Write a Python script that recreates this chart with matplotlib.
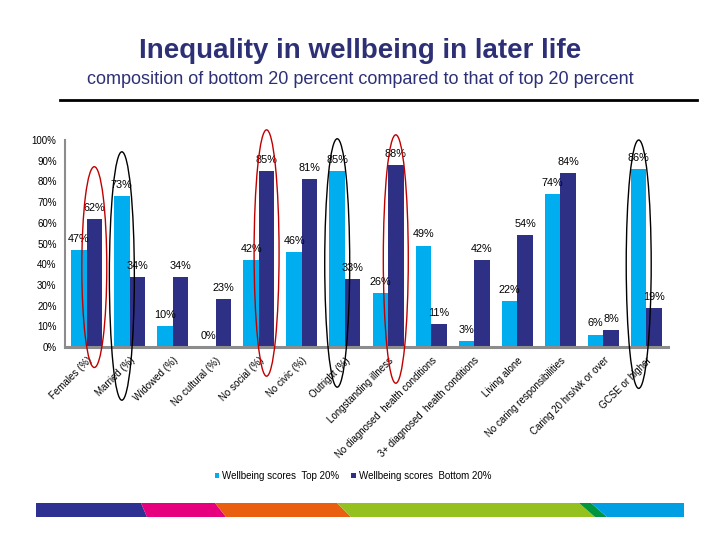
import matplotlib
matplotlib.use("Agg")
import matplotlib.pyplot as plt
from matplotlib.patches import Ellipse, Polygon
import numpy as np

plt.rcParams['font.family'] = ['Liberation Sans', 'DejaVu Sans']

# ---- data ----
categories = ["Females (%)", "Married (%)", "Widowed (%)", "No cultural (%)",
              "No social (%)", "No civic (%)", "Outright (%)", "Longstanding illness",
              "No diagnosed  health conditions", "3+ diagnosed  health conditions",
              "Living alone", "No caring responsibilities", "Caring 20 hrs/wk or over",
              "GCSE or higher"]
top20 = [47, 73, 10, 0, 42, 46, 85, 26, 49, 3, 22, 74, 6, 86]
bottom20 = [62, 34, 34, 23, 85, 81, 33, 88, 11, 42, 54, 84, 8, 19]
series_names = ["Wellbeing scores  Top 20%", "Wellbeing scores  Bottom 20%"]
yticks = [0, 10, 20, 30, 40, 50, 60, 70, 80, 90, 100]
# highlighted bars: (category index, series index, colour)
highlights = [(0, 1, "#C00000"), (1, 0, "black"), (4, 1, "#C00000"),
              (6, 0, "black"), (7, 1, "#C00000"), (13, 0, "black")]
# ellipse vertical extent (centre %, height %) for each highlight
ell_geom = [(38.6, 97), (34.3, 120), (45.4, 119), (40.6, 120), (42.5, 120), (40, 120)]

LIGHT = "#00AEEF"
DARK = "#2E3086"
NAVY = "#2E3076"

W, H = 720, 540
fig = plt.figure(figsize=(W / 100, H / 100), dpi=100)

# axes placement in pixels
ax_l, ax_r, ax_t, ax_b = 65, 668, 140, 347
ax = fig.add_axes([ax_l / W, 1 - ax_b / H, (ax_r - ax_l) / W, (ax_b - ax_t) / H])

x = np.arange(len(categories))
bw = 0.36
off = 0.18
b1 = ax.bar(x - off, top20, bw, color=LIGHT, label=series_names[0], zorder=2)
b2 = ax.bar(x + off, bottom20, bw, color=DARK, label=series_names[1], zorder=2)

for xs, vals in ((x - off, top20), (x + off, bottom20)):
    for xi, v in zip(xs, vals):
        ax.annotate(f"{v}%", (xi, v), xytext=(0, 8), textcoords="offset points",
                    ha="center", va="center", fontsize=7.8, color="black", zorder=4)

ax.set_xlim(-0.5, len(categories) - 0.5)
ax.set_ylim(0, 100)
ax.set_yticks(yticks)
ax.set_yticklabels([f"{t}%" for t in yticks], fontsize=7)
ax.tick_params(axis="y", length=0, pad=6)
ax.set_xticks(x)
ax.set_xticklabels(categories, rotation=45, ha="right", va="top",
                   rotation_mode="anchor", fontsize=7)
ax.tick_params(axis="x", length=0, pad=6)
for s in ("top", "right"):
    ax.spines[s].set_visible(False)
ax.spines["left"].set_color("#8C8C8C")
ax.spines["left"].set_linewidth(1.5)
ax.spines["bottom"].set_color("#8C8C8C")
ax.spines["bottom"].set_linewidth(2.2)
ax.spines["bottom"].set_zorder(3)

for (ci, si, col), (yc, hh) in zip(highlights, ell_geom):
    xc = x[ci] + (off if si == 1 else -off)
    e = Ellipse((xc, yc), 0.58, hh, fill=False, edgecolor=col, linewidth=1.0,
                clip_on=False, zorder=5)
    ax.add_patch(e)

# legend
leg = fig.legend(handles=[b1, b2], labels=series_names, loc="center",
                 bbox_to_anchor=(353 / W, 1 - 476 / H), ncol=2, frameon=False,
                 fontsize=7, handlelength=0.5, handleheight=0.5, handletextpad=0.3,
                 columnspacing=1.2)

# titles
fig.text(0.5, 1 - 51 / H, "Inequality in wellbeing in later life", ha="center",
         va="center", fontsize=20, fontweight="bold", color=NAVY)
fig.text(0.5, 1 - 79 / H, "composition of bottom 20 percent compared to that of top 20 percent",
         ha="center", va="center", fontsize=13, color=NAVY)
fig.add_artist(plt.Line2D([60 / W, 697 / W], [1 - 100 / H, 1 - 100 / H],
                          color="black", linewidth=2, transform=fig.transFigure))

# bottom colour band
y0, y1 = 1 - 517 / H, 1 - 503 / H
segs = [("#2E3192", 36, 36, 141, 147), ("#E6007E", 141, 147, 215, 226),
        ("#E95E0F", 215, 226, 337, 351), ("#95C11F", 337, 351, 579, 595),
        ("#009640", 579, 595, 591, 607), ("#009FE3", 591, 607, 684, 684)]
for col, xt0, xb0, xt1, xb1 in segs:
    poly = Polygon([(xb0 / W, y0), (xt0 / W, y1), (xt1 / W, y1), (xb1 / W, y0)],
                   closed=True, facecolor=col, edgecolor="none",
                   transform=fig.transFigure)
    fig.add_artist(poly)

fig.savefig("out.png", dpi=100)
